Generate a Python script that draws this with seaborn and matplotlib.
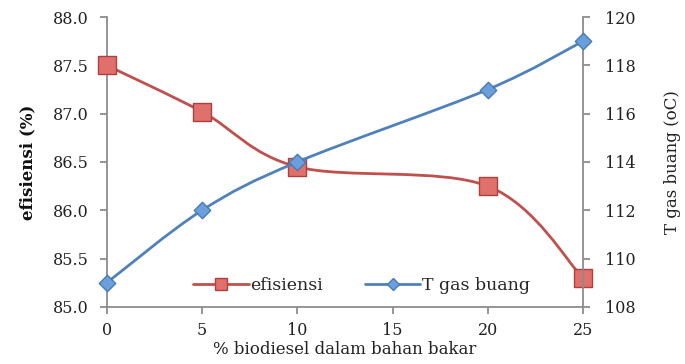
import numpy as np
import pandas as pd
import matplotlib
matplotlib.use("Agg")
import matplotlib.pyplot as plt
import seaborn as sns
from matplotlib.path import Path
from matplotlib.patches import PathPatch
from matplotlib.lines import Line2D

biodiesel = [0, 5, 10, 20, 25]
efisiensi = [87.5, 87.02, 86.45, 86.25, 85.3]
t_gas = [109, 112, 114, 117, 119]
x_ticks = [0, 5, 10, 15, 20, 25]

RED_LINE = "#C0504D"
RED_FILL = "#E0706C"
RED_EDGE = "#B0403D"
BLUE_LINE = "#4F81BD"
BLUE_FILL = "#6A9FDB"
BLUE_EDGE = "#4A7AB5"
SPINE = "#8C8C8C"

sns.set_theme(style="white")
plt.rcParams["font.family"] = ["DejaVu Serif"]

df = pd.DataFrame({"x": biodiesel, "eff": efisiensi, "t": t_gas})

fig = plt.figure(figsize=(6.85, 3.64), dpi=100)
ax = fig.add_axes([0.156, 0.157, 0.695, 0.796])
ax2 = ax.twinx()


def smooth_path(xs, ys, t=1/6):
    pts = np.column_stack([xs, ys]).astype(float)
    n = len(pts)
    verts = [pts[0]]
    codes = [Path.MOVETO]
    for i in range(n - 1):
        p0 = pts[i - 1] if i > 0 else pts[i]
        p1 = pts[i]
        p2 = pts[i + 1]
        p3 = pts[i + 2] if i + 2 < n else pts[i + 1]
        c1 = p1 + (p2 - p0) * t
        c2 = p2 - (p3 - p1) * t
        verts += [c1, c2, p2]
        codes += [Path.CURVE4] * 3
    return Path(verts, codes)


ax.add_patch(PathPatch(smooth_path(df["x"], df["eff"]), facecolor="none",
                       edgecolor=RED_LINE, lw=2.0, zorder=2))
ax2.add_patch(PathPatch(smooth_path(df["x"], df["t"]), facecolor="none",
                        edgecolor=BLUE_LINE, lw=2.0, zorder=2))

sns.scatterplot(data=df, x="x", y="eff", ax=ax, marker="s", s=150,
                color=RED_FILL, edgecolor=RED_EDGE, linewidth=1.0, zorder=3,
                clip_on=False, legend=False)
sns.scatterplot(data=df, x="x", y="t", ax=ax2, marker="D", s=70,
                color=BLUE_FILL, edgecolor=BLUE_EDGE, linewidth=1.0, zorder=3,
                clip_on=False, legend=False)

ax.set_xlim(0, 25)
ax.set_ylim(85.0, 88.0)
ax2.set_ylim(108, 120)
ax.set_xticks(x_ticks)
ax.set_yticks(np.arange(85.0, 88.01, 0.5))
ax.set_yticklabels([f"{v:.1f}" for v in np.arange(85.0, 88.01, 0.5)])
ax2.set_yticks(range(108, 121, 2))

for a in (ax, ax2):
    a.spines["top"].set_visible(False)
    for s in ("left", "right", "bottom"):
        a.spines[s].set_color(SPINE)
        a.spines[s].set_linewidth(1.3)
ax.spines["right"].set_visible(False)
ax2.spines["left"].set_visible(False)
ax2.spines["bottom"].set_visible(False)

ax.tick_params(axis="both", direction="out", length=5, width=1.3, color=SPINE,
               labelsize=11.5, labelcolor="#222222", left=True, bottom=True)
ax.tick_params(axis="x", pad=6)
ax.tick_params(axis="y", pad=8)
ax2.tick_params(axis="y", direction="out", length=5, width=1.3, color=SPINE,
                labelsize=11.5, labelcolor="#222222", right=True, pad=11)

ax.set_xlabel("% biodiesel dalam bahan bakar", fontsize=12, labelpad=1,
              color="#222222")
ax.set_ylabel("efisiensi (%)", fontsize=12, fontweight="bold", labelpad=12,
              color="#111111")
ax2.set_ylabel("T gas buang (oC)", fontsize=12, labelpad=20, color="#222222")
ax.grid(False)
ax2.grid(False)

handles = [
    Line2D([], [], color=RED_LINE, lw=2.0, marker="s", markersize=8,
           markerfacecolor=RED_FILL, markeredgecolor=RED_EDGE),
    Line2D([], [], color=BLUE_LINE, lw=2.0, marker="D", markersize=6,
           markerfacecolor=BLUE_FILL, markeredgecolor=BLUE_EDGE),
]
ax.legend(handles, ["efisiensi", "T gas buang"], loc="lower center",
          bbox_to_anchor=(0.535, -0.01), ncol=2, frameon=False, fontsize=12.5,
          handlelength=3.2, handletextpad=0.1, columnspacing=2.4)

fig.savefig("out.png", dpi=100)
